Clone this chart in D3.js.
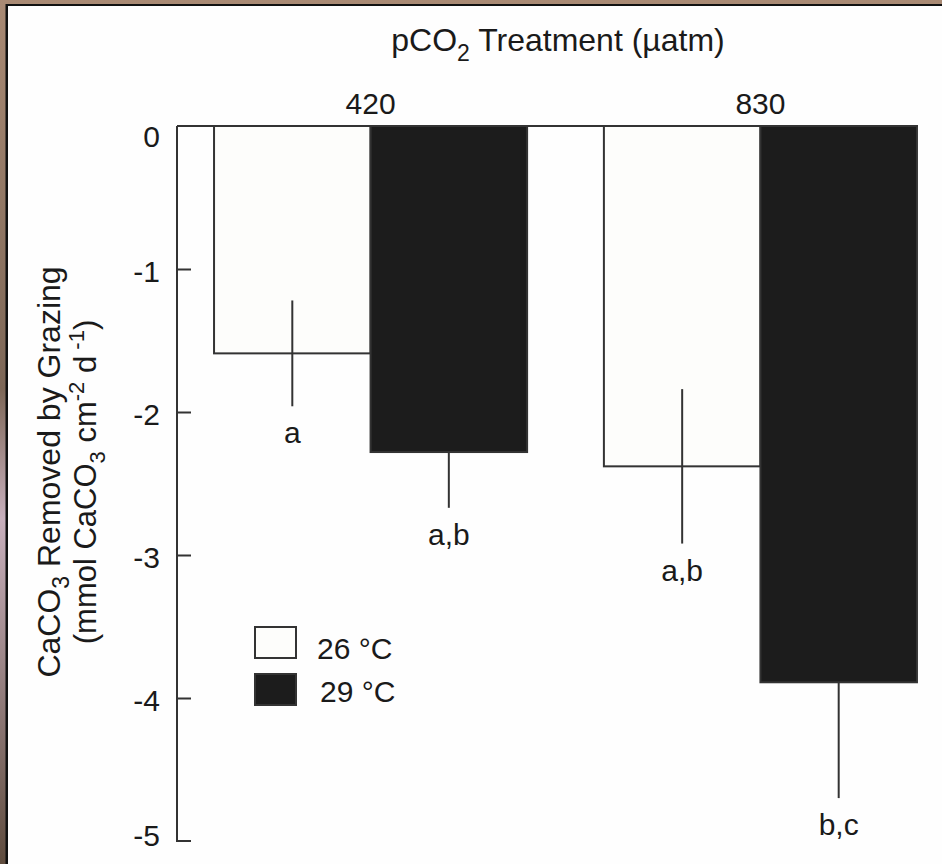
<!DOCTYPE html>
<html>
<head>
<meta charset="utf-8">
<script src="https://cdn.jsdelivr.net/npm/d3@7"></script>
<style>
  html, body { margin: 0; padding: 0; background: #8a7262; }
  svg { display: block; }
  text { font-family: "Liberation Sans", Arial, Helvetica, sans-serif; fill: #1a1a1a; }
</style>
</head>
<body>
<svg id="chart" width="942" height="864"></svg>
<script>
// pCO2 treatments (groups) and temperature treatments (bars within a group)
const treatments = ["420", "830"];
const temperatures = ["26 °C", "29 °C"];
// mean CaCO3 removed by grazing (mmol CaCO3 cm-2 d-1), per treatment, per temperature
const meanValues = [
  [-1.59, -2.28],   // 420 µatm: 26 °C, 29 °C
  [-2.38, -3.89]    // 830 µatm: 26 °C, 29 °C
];
const errorValues = [
  [0.37, 0.39],
  [0.54, 0.81]
];
// post-hoc significance groups
const sigLetters = [
  ["a", "a,b"],
  ["a,b", "b,c"]
];
const yTicks = [0, -1, -2, -3, -4, -5];

const svg = d3.select("#chart");
const W = 942, H = 864;

// mounted-print backdrop with a white sheet
const defs = svg.append("defs");
const grad = defs.append("linearGradient").attr("id", "wood").attr("x1", 0).attr("y1", 0).attr("x2", 0).attr("y2", 1);
grad.append("stop").attr("offset", "0%").attr("stop-color", "#a98a74");
grad.append("stop").attr("offset", "45%").attr("stop-color", "#7d6757");
grad.append("stop").attr("offset", "60%").attr("stop-color", "#c8b0bd");
grad.append("stop").attr("offset", "100%").attr("stop-color", "#5f4c3e");
svg.append("rect").attr("width", W).attr("height", H).attr("fill", "url(#wood)");
svg.append("rect").attr("x", 5.5).attr("y", 4).attr("width", W).attr("height", H)
  .attr("fill", "#111");
svg.append("rect").attr("x", 8).attr("y", 6).attr("width", W).attr("height", H)
  .attr("fill", "#fefefe");

// scales
const x0 = d3.scaleBand().domain(treatments).range([177, 954])
  .paddingInner(0.197).paddingOuter(0.095);
const x1 = d3.scaleBand().domain(temperatures).range([0, x0.bandwidth()]);
const y = d3.scaleLinear().domain([0, -5]).range([126, 841]);

const fills = {"26 °C": "#fdfdfb", "29 °C": "#1c1c1c"};
const ink = "#333";
const FS = 30;

const rows = [];
treatments.forEach((t, i) => temperatures.forEach((temp, j) => {
  rows.push({t, temp, v: meanValues[i][j], e: errorValues[i][j], lab: sigLetters[i][j]});
}));

const g = svg.append("g");

// bars
g.selectAll("rect.bar").data(rows).join("rect")
  .attr("class", "bar")
  .attr("x", d => x0(d.t) + x1(d.temp))
  .attr("y", y(0))
  .attr("width", x1.bandwidth())
  .attr("height", d => y(d.v) - y(0))
  .attr("fill", d => fills[d.temp])
  .attr("stroke", ink)
  .attr("stroke-width", 2);

// error bars (mean ± SE)
g.selectAll("line.err").data(rows).join("line")
  .attr("class", "err")
  .attr("x1", d => x0(d.t) + x1(d.temp) + x1.bandwidth() / 2)
  .attr("x2", d => x0(d.t) + x1(d.temp) + x1.bandwidth() / 2)
  .attr("y1", d => d.temp === "29 °C" ? y(d.v) : y(d.v + d.e))
  .attr("y2", d => y(d.v - d.e))
  .attr("stroke", ink)
  .attr("stroke-width", 2);

// significance letters
g.selectAll("text.sig").data(rows).join("text")
  .attr("class", "sig")
  .attr("x", d => x0(d.t) + x1(d.temp) + x1.bandwidth() / 2)
  .attr("y", d => y(d.v - d.e) + 37)
  .attr("text-anchor", "middle")
  .attr("font-size", FS)
  .text(d => d.lab);

// y axis with inward ticks
const yAxis = d3.axisRight(y).tickValues(yTicks).tickSize(14).tickFormat("");
const ya = g.append("g").attr("transform", "translate(177,0)").call(yAxis);
ya.select(".domain").attr("d", `M14,${y(-5)}H0V${y(0)}`).attr("stroke", ink).attr("stroke-width", 2);
ya.selectAll(".tick line").attr("stroke", ink).attr("stroke-width", 2)
  .filter(d => d === 0 || d === -5).remove();
// labels sit just inside the end ticks
g.selectAll("text.ytick").data(yTicks).join("text")
  .attr("class", "ytick")
  .attr("x", 160)
  .attr("y", d => y(d) + (d === 0 ? 10 : d === -5 ? -6 : 2))
  .attr("dy", "0.36em")
  .attr("text-anchor", "end")
  .attr("font-size", FS)
  .text(d => d === 0 ? "0" : "-" + Math.abs(d));

// zero line (top axis) with treatment labels
const xAxis = d3.axisTop(x0).tickSize(0).tickPadding(12);
const xa = g.append("g").attr("transform", `translate(0,${y(0)})`).call(xAxis);
xa.select(".domain").attr("d", `M177,0H${x0("830") + x0.bandwidth() + 1}`).attr("stroke", ink).attr("stroke-width", 2);
xa.selectAll(".tick text").attr("font-size", FS).attr("fill", "#1a1a1a")
  .attr("font-family", "Liberation Sans, Arial, sans-serif");

// title
const title = svg.append("text").attr("x", 558).attr("y", 51)
  .attr("text-anchor", "middle").attr("font-size", 32);
title.append("tspan").text("pCO");
title.append("tspan").attr("font-size", 23).attr("dy", 10).text("2");
title.append("tspan").attr("dy", -10).text(" Treatment (µatm)");

// y axis title (two lines)
const yt = svg.append("g").attr("transform", "translate(0,472) rotate(-90)");
const l1 = yt.append("text").attr("x", 0).attr("y", 60).attr("text-anchor", "middle").attr("font-size", 32);
l1.append("tspan").text("CaCO");
l1.append("tspan").attr("font-size", 23).attr("dy", 9).text("3");
l1.append("tspan").attr("dy", -9).text(" Removed by Grazing");
const l2 = yt.append("text").attr("x", -10).attr("y", 96).attr("text-anchor", "middle").attr("font-size", 31);
l2.append("tspan").text("(mmol CaCO");
l2.append("tspan").attr("font-size", 22).attr("dy", 9).text("3");
l2.append("tspan").attr("dy", -9).text(" cm");
l2.append("tspan").attr("font-size", 22).attr("dy", -12).text("-2");
l2.append("tspan").attr("dy", 12).text(" d");
l2.append("tspan").attr("font-size", 22).attr("dy", -12).text(" -1");
l2.append("tspan").attr("dy", 12).text(")");

// legend
const leg = svg.append("g").attr("transform", "translate(255,627)");
const legItems = leg.selectAll("g").data(temperatures).join("g")
  .attr("transform", (d, i) => `translate(0,${i * 47})`);
legItems.append("rect").attr("width", 41).attr("height", 31)
  .attr("fill", d => fills[d]).attr("stroke", ink).attr("stroke-width", 2);
legItems.append("text").attr("x", (d, i) => 62 + i * 3).attr("y", (d, i) => 21 - i * 4).attr("dy", "0.36em")
  .attr("font-size", FS).text(d => d);
</script>
</body>
</html>
